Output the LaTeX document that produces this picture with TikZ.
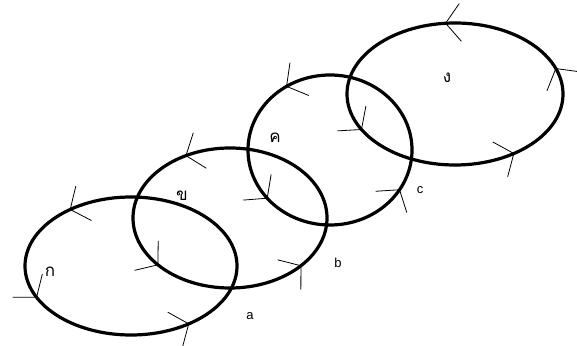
\documentclass[tikz,border=0pt]{standalone}
\usepackage{fontspec}
\setmainfont{Liberation Sans}
\newfontfamily\thaifont[Script=Thai]{Loma}
\usetikzlibrary{calc}

% open arrow head sitting on an orbit: centre, x radius, y radius, angle
\newcommand{\flowmark}[4]{%
  \pgfmathsetmacro{\fdir}{atan2((#3)*cos(#4),-(#2)*sin(#4))}
  \path (#1) ++(#4:#2pt and #3pt) coordinate (tip);
  \draw[barb] (tip) ++({\fdir+128}:24pt) -- (tip) -- ++({\fdir-128}:24pt);
}

\begin{document}
\begin{tikzpicture}[x=1pt, y=1pt]

\tikzset{
  orbit/.style={line width=3.2pt},
  barb/.style={line width=0.8pt},
  tag/.style={font=\fontsize{13}{13}\selectfont, inner sep=0pt},
  thaitag/.style={font=\thaifont\fontsize{17}{17}\selectfont, inner sep=0pt},
}

\useasboundingbox[fill=white] (0,0) rectangle (577,345);

% -----------------------------------------
% centres of the four loops
% -----------------------------------------
\coordinate (k1) at (131,79);
\coordinate (k2) at (230,127);
\coordinate (k3) at (330,195);
\coordinate (k4) at (455,251);

\draw[orbit] (k1) ellipse [x radius=106pt, y radius=69pt];
\draw[orbit] (k2) ellipse [x radius=97pt, y radius=70pt];
\draw[orbit] (k3) ellipse [x radius=82pt, y radius=75pt];
\draw[orbit] (k4) ellipse [x radius=108pt, y radius=71pt];

% -----------------------------------------
% direction marks
% -----------------------------------------
\foreach \t in {125,207,303} {\flowmark{k1}{106}{69}{\t}}
\foreach \t in {117,222,317} {\flowmark{k2}{97}{70}{\t}}
\foreach \t in {122,220,328} {\flowmark{k3}{82}{75}{\t}}
\foreach \t in {95,21,210,303} {\flowmark{k4}{108}{71}{\t}}

% -----------------------------------------
% labels
% -----------------------------------------
\node[thaitag] (ko)   at (50,73)   {ก};
\node[thaitag] (kho)  at (182,149) {ข};
\node[thaitag] (kho2) at (275,207) {ค};
\node[thaitag] (ngo)  at (447,267) {ง};

\node[tag] (la) at (250,29)  {a};
\node[tag] (lb) at (338,82)  {b};
\node[tag] (lc) at (420,155) {c};
\end{tikzpicture}
\end{document}
